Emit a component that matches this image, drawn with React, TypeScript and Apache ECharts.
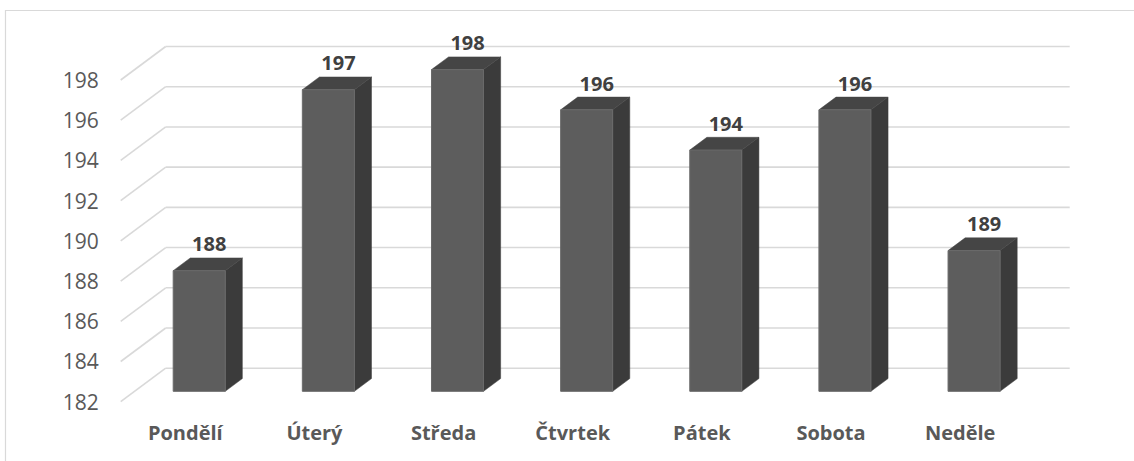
import React, { useEffect, useRef } from "react";
import * as echarts from "echarts";

// Weekday counts
const days = ["Pondělí", "Úterý", "Středa", "Čtvrtek", "Pátek", "Sobota", "Neděle"];
const counts = [188, 197, 198, 196, 194, 196, 189];

// Value axis ticks
const yTicks = [182, 184, 186, 188, 190, 192, 194, 196, 198];
const Y_MIN = 182;
const Y_MAX = 198;
const Y_STEP = 2;

// Depth of the pseudo-3D box: front plane -> back wall offset
const DX = 45;
const DY = -33.5;
// Bars sit between these fractions of the depth
const F_FRONT = 0.31;
const F_BACK = 0.69;
const BAR_RATIO = 0.403;

const GRID_COLOR = "#d9d9d9";
const TEXT_COLOR = "#595959";
const FONT = "'Open Sans', 'Noto Sans', sans-serif";

export default function App() {
  const ref = useRef<HTMLDivElement>(null);

  useEffect(() => {
    if (!ref.current) return;
    const chart = echarts.init(ref.current, undefined, { renderer: "svg" });

    const wallRender = (params: any, api: any) => {
      const cs = params.coordSys;
      const y = api.coord([0, api.value(1)])[1];
      const lineStyle = { stroke: GRID_COLOR, lineWidth: 1.6, fill: null };
      return {
        type: "group",
        silent: true,
        children: [
          {
            type: "line",
            shape: { x1: cs.x, y1: y, x2: cs.x + DX, y2: y + DY },
            style: lineStyle,
          },
          {
            type: "line",
            shape: { x1: cs.x + DX, y1: y + DY, x2: cs.x + cs.width + DX, y2: y + DY },
            style: lineStyle,
          },
        ],
      };
    };

    const barRender = (_params: any, api: any) => {
      const idx = api.value(0);
      const val = api.value(1);
      const top = api.coord([idx, val]);
      const base = api.coord([idx, Y_MIN]);
      const band = api.size([1, 0])[0];
      const w = band * BAR_RATIO;
      const fx = F_FRONT * DX;
      const fy = F_FRONT * DY;
      const ddx = (F_BACK - F_FRONT) * DX;
      const ddy = (F_BACK - F_FRONT) * DY;
      const x0 = top[0] + fx - w / 2;
      const x1 = top[0] + fx + w / 2;
      const yt = top[1] + fy;
      const yb = base[1] + fy;
      return {
        type: "group",
        children: [
          {
            type: "polygon",
            shape: {
              points: [
                [x1, yt],
                [x1 + ddx, yt + ddy],
                [x1 + ddx, yb + ddy],
                [x1, yb],
              ],
            },
            style: { fill: "#3b3b3b", stroke: "#3b3b3b", lineWidth: 0.5 },
          },
          {
            type: "polygon",
            shape: {
              points: [
                [x0, yt],
                [x1, yt],
                [x1 + ddx, yt + ddy],
                [x0 + ddx, yt + ddy],
              ],
            },
            style: { fill: "#454545", stroke: "#454545", lineWidth: 0.5 },
          },
          {
            type: "rect",
            shape: { x: x0, y: yt, width: w, height: yb - yt },
            style: { fill: "#5d5d5d", stroke: "#6a6a6a", lineWidth: 1 },
          },
          {
            type: "text",
            x: top[0] + fx + ddx / 2 + 1.5,
            y: yt + ddy - 4,
            style: {
              text: String(val),
              fill: "#404040",
              fontSize: 20,
              fontWeight: "bold",
              fontFamily: FONT,
              align: "center",
              verticalAlign: "bottom",
            },
          },
        ],
      };
    };

    chart.setOption({
      animation: false,
      backgroundColor: "#ffffff",
      graphic: [
        {
          type: "rect",
          silent: true,
          shape: { x: 5.5, y: 10.5, width: 1200, height: 500 },
          style: { fill: "none", stroke: GRID_COLOR, lineWidth: 1.2 },
        },
      ],
      grid: {
        left: 120.7,
        right: 109.3,
        top: 80,
        bottom: 59.3,
        containLabel: false,
        outerBoundsMode: "none",
      },
      xAxis: {
        type: "category",
        data: days,
        axisLine: { show: false },
        axisTick: { show: false },
        splitLine: { show: false },
        axisLabel: {
          color: TEXT_COLOR,
          fontSize: 20,
          fontWeight: "bold",
          fontFamily: FONT,
          margin: 21,
          lineHeight: 20,
          interval: 0,
        },
      },
      yAxis: {
        type: "value",
        min: Y_MIN,
        max: Y_MAX,
        interval: Y_STEP,
        axisLine: { show: false },
        axisTick: { show: false },
        splitLine: { show: false },
        axisLabel: {
          color: TEXT_COLOR,
          fontSize: 21,
          fontFamily: FONT,
          margin: 22,
        },
      },
      series: [
        {
          type: "custom",
          name: "walls",
          clip: false,
          silent: true,
          z: 1,
          encode: { x: 0, y: 1 },
          data: yTicks.map((v) => [0, v]),
          renderItem: wallRender,
        },
        {
          type: "custom",
          name: "counts",
          clip: false,
          z: 2,
          encode: { x: 0, y: 1 },
          data: counts.map((v, i) => [i, v]),
          renderItem: barRender,
        },
      ],
    });

    return () => chart.dispose();
  }, []);

  return (
    <div
      ref={ref}
      style={{ position: "fixed", left: 0, top: 0, width: 1134, height: 461 }}
    />
  );
}
